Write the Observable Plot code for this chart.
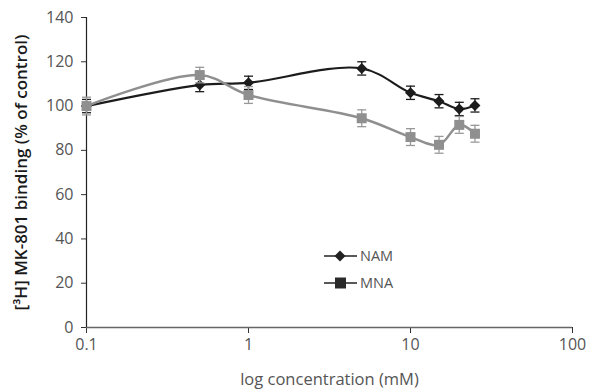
<!DOCTYPE html>
<html><head><meta charset="utf-8">
<script src="https://cdn.jsdelivr.net/npm/d3@7"></script>
<script src="https://cdn.jsdelivr.net/npm/@observablehq/plot@0.6"></script>
<style>
body{margin:0;background:#fff;}
#wrap{position:relative;width:595px;height:389px;font-family:"Open Sans",sans-serif;}
#legend{position:absolute;left:0;top:0;}
</style>
</head><body><div id="wrap"></div>
<script>
const conc = [0.1, 0.5, 1, 5, 10, 15, 20, 25];
const nam = [100, 109.5, 110.5, 117, 106, 102.2, 98.7, 100.3];
const namErr = [3, 3, 3, 3, 3, 3, 3, 3];
const mna = [100, 114, 105, 94.5, 86, 82.5, 91.5, 87.5];
const mnaErr = [4, 3.5, 3.8, 3.8, 3.8, 3.8, 3.8, 3.8];
const xTicks = [0.1, 1, 10, 100];
const yTicks = [0, 20, 40, 60, 80, 100, 120, 140];
const seriesNames = ["NAM", "MNA"];
const xLabel = "log concentration (mM)";
const yLabel = "[³H] MK-801 binding (% of control)";

const rows = s => conc.map((c, i) => ({
  c, v: s === "NAM" ? nam[i] : mna[i],
  e: s === "NAM" ? namErr[i] : mnaErr[i], s
}));
const namRows = rows("NAM"), mnaRows = rows("MNA");

const cap = { draw(ctx, size) { const w = 4.5; ctx.moveTo(-w, 0); ctx.lineTo(w, 0); } };
const rsq = { draw(ctx, size) { const w = 5.5; ctx.moveTo(0, -w); ctx.lineTo(w, 0); ctx.lineTo(0, w); ctx.lineTo(-w, 0); ctx.closePath(); } };
const sq = { draw(ctx, size) { const w = 5; ctx.rect(-w, -w, 2 * w, 2 * w); } };

function errMarks(data, color) {
  return [
    Plot.ruleX(data, {x: "c", y1: d => d.v - d.e, y2: d => d.v + d.e, stroke: color, strokeWidth: 1.3}),
    Plot.dot(data, {x: "c", y: d => d.v + d.e, symbol: cap, stroke: color, strokeWidth: 1.3, r: 3}),
    Plot.dot(data, {x: "c", y: d => d.v - d.e, symbol: cap, stroke: color, strokeWidth: 1.3, r: 3})
  ];
}

const black = "#1c1c1c", gray = "#8f8f8f";

const chart = Plot.plot({
  width: 595, height: 389,
  marginLeft: 86, marginRight: 23, marginTop: 17, marginBottom: 62,
  style: {fontFamily: "Open Sans, sans-serif", fontSize: "16px", color: "#555", background: "#fff"},
  x: {type: "log", domain: [0.1, 100], ticks: xTicks, tickFormat: d => String(d), tickSize: 6, tickPadding: 5,
      label: xLabel, labelAnchor: "center", labelArrow: "none", labelOffset: 57},
  y: {domain: [0, 140], ticks: yTicks, tickSize: 5, tickPadding: 8,
      label: yLabel, labelAnchor: "center", labelArrow: "none", labelOffset: 72},
  marks: [
    Plot.ruleY([0], {stroke: "#666", strokeWidth: 1.5}),
    Plot.ruleX([0.1], {stroke: "#222", strokeWidth: 1.2}),
    ...errMarks(namRows, black),
    Plot.line(namRows, {x: "c", y: "v", stroke: black, strokeWidth: 2.2, curve: "catmull-rom"}),
    Plot.dot(namRows, {x: "c", y: "v", symbol: rsq, fill: black, r: 5}),
    ...errMarks(mnaRows, "#999"),
    Plot.line(mnaRows, {x: "c", y: "v", stroke: gray, strokeWidth: 2.5, curve: "catmull-rom"}),
    Plot.dot(mnaRows, {x: "c", y: "v", symbol: sq, fill: gray, r: 5})
  ]
});
document.getElementById("wrap").appendChild(chart);
d3.select(chart).selectAll("[aria-label='y-axis tick'], [aria-label='x-axis tick']").attr("stroke", "#333");
d3.select(chart).selectAll("text").each(function() {
  const t = d3.select(this), s = this.textContent;
  t.style("font-family", "Open Sans, sans-serif");
  if (s === yLabel) t.style("font-size", "17px").style("fill", "#1a1a1a").style("font-weight", "600");
  else if (s === xLabel) t.style("font-size", "16.5px").style("fill", "#555");
  else t.style("font-size", "16px").style("fill", "#555");
});

// legend overlay
const lg = d3.select("#wrap").append("svg").attr("id", "legend").attr("width", 595).attr("height", 389);
seriesNames.forEach((name, i) => {
  const y = 256 + i * 27;
  lg.append("line").attr("x1", 324).attr("x2", 357).attr("y1", y).attr("y2", y).attr("stroke", "#222").attr("stroke-width", 1.5);
  if (name === "NAM") {
    lg.append("path").attr("d", "M0,-5.5L5.5,0L0,5.5L-5.5,0Z").attr("transform", `translate(340,${y})`).attr("fill", "#222");
  } else {
    lg.append("rect").attr("x", 335).attr("y", y - 5.5).attr("width", 11).attr("height", 11).attr("fill", "#2a2a2a");
  }
  lg.append("text").attr("x", 360).attr("y", y + 5).text(name).attr("fill", "#555")
    .style("font-family", "Open Sans, sans-serif").style("font-size", "14.5px");
});
</script>
</body></html>
